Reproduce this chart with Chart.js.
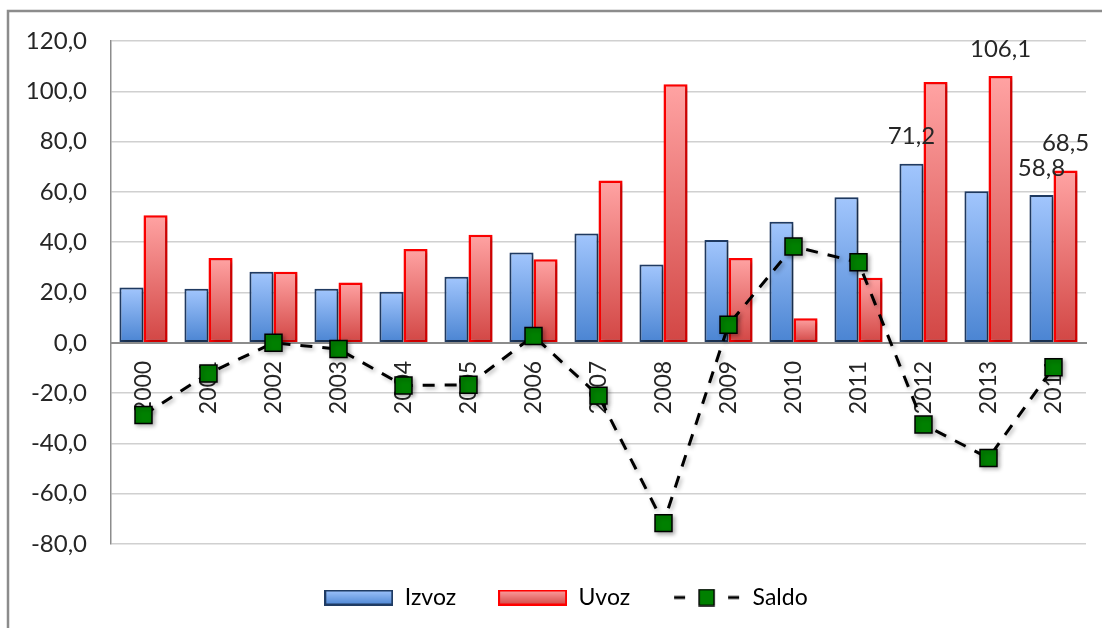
<!DOCTYPE html>
<html>
<head>
<meta charset="utf-8">
<script src="https://cdn.jsdelivr.net/npm/chart.js@4"></script>
<style>
  html, body { margin: 0; padding: 0; background: #fff; }
  canvas { display: block; }
</style>
</head>
<body>
<canvas id="tradeChart" width="1102" height="628"></canvas>
<script>
// values
const years = ['2000', '2001', '2002', '2003', '2004', '2005', '2006', '2007',
               '2008', '2009', '2010', '2011', '2012', '2013', '2014'];
const izvoz = [22.0, 21.5, 28.3, 21.5, 20.3, 26.3, 35.9, 43.5, 31.1, 40.9, 48.1, 57.9, 71.2, 60.3, 58.8];
const uvoz = [50.7, 33.7, 28.3, 24.0, 37.3, 43.0, 33.2, 64.5, 102.8, 33.7, 9.8, 25.9, 103.7, 106.1, 68.5];
const saldo = [-28.7, -12.2, 0.0, -2.5, -17.0, -16.7, 2.7, -21.0, -71.7, 7.2, 38.3, 32.0, -32.5, -45.8, -9.7];
const yTicks = [-80, -60, -40, -20, 0, 20, 40, 60, 80, 100, 120];
// [datasetIndex, pointIndex] of the values that carry a label
const labelledPoints = [[0, 12], [1, 13], [0, 14], [1, 14]];

const fmt = v => v.toFixed(1).replace('.', ',');

Chart.defaults.font.family = 'Lato';
Chart.defaults.color = '#262626';

function barGradient(top, bottom, fallback) {
  return function (ctx) {
    const chart = ctx.chart;
    if (!chart.chartArea || ctx.type !== 'data') return fallback;
    const y = chart.scales.y;
    const p1 = y.getPixelForValue(ctx.raw);
    const p0 = y.getPixelForValue(0);
    if (Math.abs(p1 - p0) < 1) return fallback;
    const g = chart.ctx.createLinearGradient(0, p1, 0, p0);
    g.addColorStop(0, top);
    g.addColorStop(1, bottom);
    return g;
  };
}

// little canvases for the legend symbols
function boxSymbol(top, bottom, border) {
  const c = document.createElement('canvas');
  c.width = 69; c.height = 16;
  const x = c.getContext('2d');
  const g = x.createLinearGradient(0, 0, 0, 16);
  g.addColorStop(0, top);
  g.addColorStop(1, bottom);
  x.fillStyle = g;
  x.fillRect(1, 1, 67, 14);
  x.strokeStyle = border;
  x.lineWidth = 2;
  x.strokeRect(1, 1, 67, 14);
  return c;
}
function lineSymbol() {
  const c = document.createElement('canvas');
  c.width = 69; c.height = 18;
  const x = c.getContext('2d');
  x.strokeStyle = '#000';
  x.lineWidth = 3;
  x.beginPath();
  x.moveTo(2, 9); x.lineTo(13, 9);
  x.moveTo(56, 9); x.lineTo(67, 9);
  x.stroke();
  x.fillStyle = '#008000';
  x.fillRect(27, 1, 15, 16);
  x.lineWidth = 1.5;
  x.strokeRect(27, 1, 15, 16);
  return c;
}

const framePlugin = {
  id: 'frame',
  beforeDraw(chart) {
    const ctx = chart.ctx;
    ctx.save();
    ctx.fillStyle = '#fff';
    ctx.fillRect(0, 0, chart.width, chart.height);
    ctx.strokeStyle = '#8c8c8c';
    ctx.lineWidth = 2.5;
    ctx.beginPath();
    ctx.moveTo(8, chart.height);
    ctx.lineTo(8, 11);
    ctx.lineTo(chart.width, 11);
    ctx.stroke();
    ctx.restore();
  }
};

// nudge the legend a little to the right, as in the original
const legendShift = {
  id: 'legendShift',
  afterLayout(chart) {
    if (chart.legend) {
      chart.legend.left += 10;
      chart.legend.right += 10;
    }
  }
};

const shadowPlugin = {
  id: 'shadow',
  beforeDatasetDraw(chart) {
    const ctx = chart.ctx;
    ctx.save();
    ctx.shadowColor = 'rgba(0,0,0,0.3)';
    ctx.shadowBlur = 4;
    ctx.shadowOffsetX = 2;
    ctx.shadowOffsetY = 2;
  },
  afterDatasetDraw(chart) {
    chart.ctx.restore();
  }
};

const valueLabels = {
  id: 'valueLabels',
  afterDatasetsDraw(chart) {
    const ctx = chart.ctx;
    ctx.save();
    ctx.font = '24px Lato';
    ctx.fillStyle = '#262626';
    ctx.textAlign = 'center';
    ctx.textBaseline = 'middle';
    labelledPoints.forEach(([ds, i]) => {
      const el = chart.getDatasetMeta(ds).data[i];
      const v = chart.data.datasets[ds].data[i];
      ctx.fillText(fmt(v), el.x, el.y - 27);
    });
    ctx.restore();
  }
};

const legendSymbols = [
  boxSymbol('#a2c6fd', '#4a84d2', '#1f3b63'),
  boxSymbol('#ffa3a3', '#d24644', '#ff0000'),
  lineSymbol()
];

new Chart(document.getElementById('tradeChart').getContext('2d'), {
  type: 'bar',
  data: {
    labels: years,
    datasets: [
      {
        label: 'Izvoz',
        data: izvoz,
        order: 1,
        backgroundColor: barGradient('#a2c6fd', '#4a84d2', '#7aa7e8'),
        borderColor: '#1f3b63',
        borderWidth: 2,
        borderSkipped: false,
        categoryPercentage: 0.74,
        barPercentage: 1.0
      },
      {
        label: 'Uvoz',
        data: uvoz,
        order: 1,
        backgroundColor: barGradient('#ffa3a3', '#d24644', '#e87575'),
        borderColor: '#ff0000',
        borderWidth: 2.5,
        borderSkipped: false,
        categoryPercentage: 0.74,
        barPercentage: 1.0
      },
      {
        type: 'line',
        label: 'Saldo',
        data: saldo,
        order: 0,
        borderColor: '#000',
        borderWidth: 3,
        borderDash: [12, 10],
        tension: 0,
        fill: false,
        pointStyle: 'rect',
        pointRadius: 12,
        pointHoverRadius: 12,
        pointBackgroundColor: '#008000',
        pointBorderColor: '#000',
        pointBorderWidth: 1.5
      }
    ]
  },
  options: {
    responsive: false,
    animation: false,
    layout: { padding: { left: 26, right: 16, top: 41, bottom: 9 } },
    scales: {
      x: {
        position: { y: 0 },
        grid: { display: false, drawTicks: false },
        border: { display: true, color: '#8c8c8c', width: 2 },
        ticks: {
          minRotation: 90,
          maxRotation: 90,
          padding: 18,
          font: { size: 23 },
          color: '#262626'
        }
      },
      y: {
        min: -80,
        max: 120,
        afterBuildTicks: axis => { axis.ticks = yTicks.map(v => ({ value: v })); },
        afterFit: axis => { axis.width = 85; },
        grid: { color: '#d0d0d0', lineWidth: 1.5, drawTicks: false },
        border: { display: true, color: '#8c8c8c', width: 1.5 },
        ticks: {
          padding: 24,
          font: { size: 24 },
          color: '#262626',
          callback: v => fmt(v)
        }
      }
    },
    plugins: {
      tooltip: { enabled: false },
      legend: {
        position: 'bottom',
        labels: {
          usePointStyle: true,
          pointStyleWidth: 69,
          boxHeight: 16,
          padding: 42,
          font: { size: 23 },
          color: '#262626',
          generateLabels: chart => chart.data.datasets.map((ds, i) => ({
            text: ds.label,
            pointStyle: legendSymbols[i],
            fillStyle: '#fff',
            strokeStyle: '#fff',
            lineWidth: 1,
            hidden: false,
            datasetIndex: i
          }))
        }
      }
    }
  },
  plugins: [framePlugin, legendShift, shadowPlugin, valueLabels]
});
</script>
</body>
</html>
